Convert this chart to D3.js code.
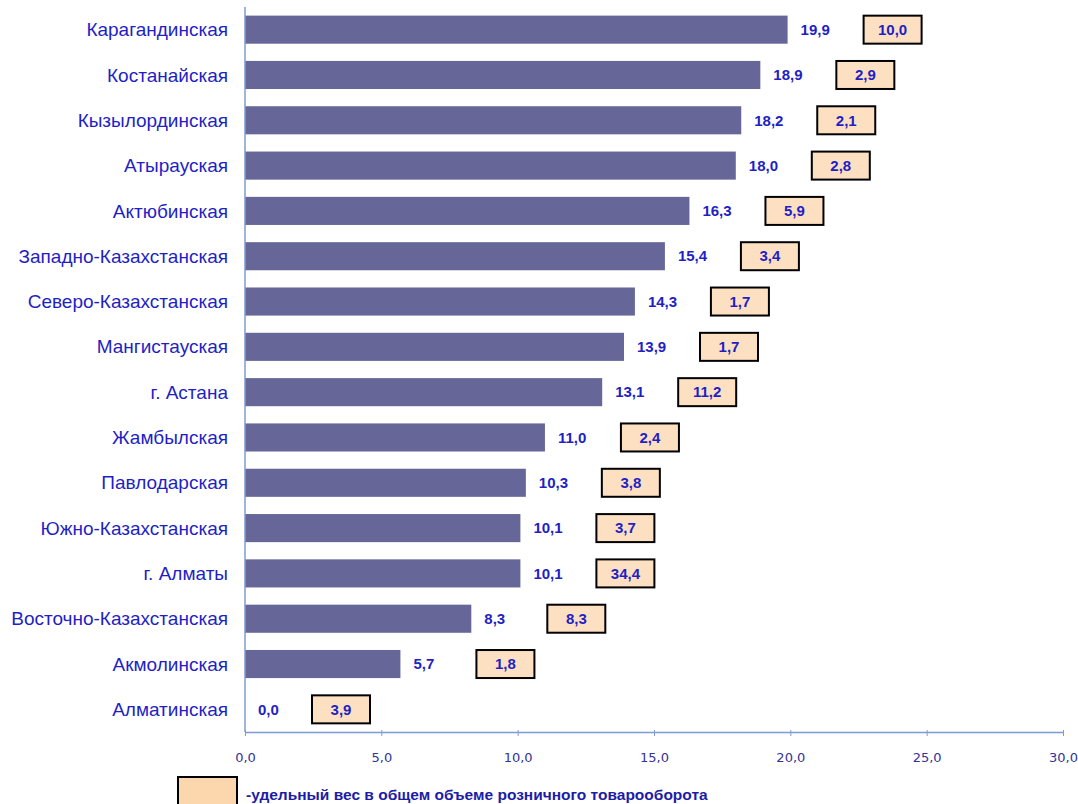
<!DOCTYPE html>
<html>
<head>
<meta charset="utf-8">
<script src="https://cdn.jsdelivr.net/npm/d3@7"></script>
<style>
  body { margin: 0; background: #fff; }
  svg { display: block; font-family: "Liberation Sans", Arial, sans-serif; }
</style>
</head>
<body>
<div class="canvas"></div>
<script>
var w = 1078;
var h = 804;

// regions, top to bottom
var regions = ["Карагандинская", "Костанайская", "Кызылординская", "Атырауская",
    "Актюбинская", "Западно-Казахстанская", "Северо-Казахстанская", "Мангистауская",
    "г. Астана", "Жамбылская", "Павлодарская", "Южно-Казахстанская",
    "г. Алматы", "Восточно-Казахстанская", "Акмолинская", "Алматинская"];

// bar values
var values = [19.9, 18.9, 18.2, 18.0, 16.3, 15.4, 14.3, 13.9,
    13.1, 11.0, 10.3, 10.1, 10.1, 8.3, 5.7, 0.0];

// share in total retail turnover (boxes)
var shares = [10.0, 2.9, 2.1, 2.8, 5.9, 3.4, 1.7, 1.7,
    11.2, 2.4, 3.8, 3.7, 34.4, 8.3, 1.8, 3.9];

var xTicks = [0, 5, 10, 15, 20, 25, 30];
var legendText = "-удельный вес в общем объеме розничного товарооборота";

var fmt = function (d) { return d.toFixed(1).replace(".", ","); };

var textBlue = "#1f1fc4";
var axisBlue = "#7d9bd1";

var xScale = d3.scaleLinear()
    .domain([0, 30])
    .range([245, 1063]);

var yScale = d3.scaleBand()
    .domain(regions)
    .range([7, 732])
    .paddingInner(0.38)
    .paddingOuter(0.19);

var svg = d3.select(".canvas").append("svg")
    .attr("width", w)
    .attr("height", h);

// bars
svg.append("g").selectAll("rect")
    .data(regions)
    .join("rect")
    .attr("x", xScale(0))
    .attr("y", function (d) { return yScale(d); })
    .attr("width", function (d, i) { return xScale(values[i]) - xScale(0); })
    .attr("height", yScale.bandwidth())
    .attr("fill", "#666699");

// x axis
var xAxis = d3.axisBottom(xScale)
    .tickValues(xTicks)
    .tickSizeInner(4)
    .tickSizeOuter(0)
    .tickPadding(17)
    .tickFormat(fmt);

var gx = svg.append("g")
    .attr("transform", "translate(0," + 732 + ")")
    .call(xAxis);
gx.select(".domain").attr("stroke", axisBlue).attr("stroke-width", 1.5);
gx.selectAll(".tick line").attr("stroke", axisBlue).attr("y1", -2);
gx.selectAll(".tick text")
    .attr("fill", "#333399")
    .attr("font-size", 13)
    .attr("font-family", "\"DejaVu Sans\", sans-serif");

// vertical axis line
svg.append("line")
    .attr("x1", xScale(0))
    .attr("x2", xScale(0))
    .attr("y1", 7)
    .attr("y2", 732)
    .attr("stroke", axisBlue)
    .attr("stroke-width", 1.5);

// category labels
svg.append("g").selectAll("text")
    .data(regions)
    .join("text")
    .attr("x", 228)
    .attr("y", function (d) { return yScale(d) + yScale.bandwidth() / 2; })
    .attr("dy", "0.35em")
    .attr("text-anchor", "end")
    .attr("font-size", 19)
    .attr("fill", textBlue)
    .text(function (d) { return d; });

// value labels
svg.append("g").selectAll("text")
    .data(regions)
    .join("text")
    .attr("x", function (d, i) { return xScale(values[i]) + 13; })
    .attr("y", function (d) { return yScale(d) + yScale.bandwidth() / 2; })
    .attr("dy", "0.35em")
    .attr("font-size", 15)
    .attr("font-weight", "bold")
    .attr("fill", textBlue)
    .text(function (d, i) { return fmt(values[i]); });

// share boxes
var boxW = 58, boxH = 28, boxGap = 76;
var boxes = svg.append("g").selectAll("g")
    .data(regions)
    .join("g")
    .attr("transform", function (d, i) {
        var bx = xScale(values[i]) + boxGap - (values[i] === 0 ? 9 : 0);
        var by = yScale(d) + yScale.bandwidth() / 2 - boxH / 2;
        return "translate(" + bx + "," + by + ")";
    });

boxes.append("rect")
    .attr("width", boxW)
    .attr("height", boxH)
    .attr("fill", "#fde0c2")
    .attr("stroke", "#000")
    .attr("stroke-width", 2);

boxes.append("text")
    .attr("x", boxW / 2)
    .attr("y", boxH / 2)
    .attr("dy", "0.35em")
    .attr("text-anchor", "middle")
    .attr("font-size", 15)
    .attr("font-weight", "bold")
    .attr("fill", textBlue)
    .text(function (d, i) { return fmt(shares[i]); });

// legend
svg.append("rect")
    .attr("x", 178)
    .attr("y", 777)
    .attr("width", 59)
    .attr("height", 32)
    .attr("fill", "#fcd6ac")
    .attr("stroke", "#000")
    .attr("stroke-width", 2);

svg.append("text")
    .attr("x", 246)
    .attr("y", 800)
    .attr("font-size", 15.5)
    .attr("font-weight", "bold")
    .attr("fill", "#1c1ca8")
    .text(legendText);
</script>
</body>
</html>
